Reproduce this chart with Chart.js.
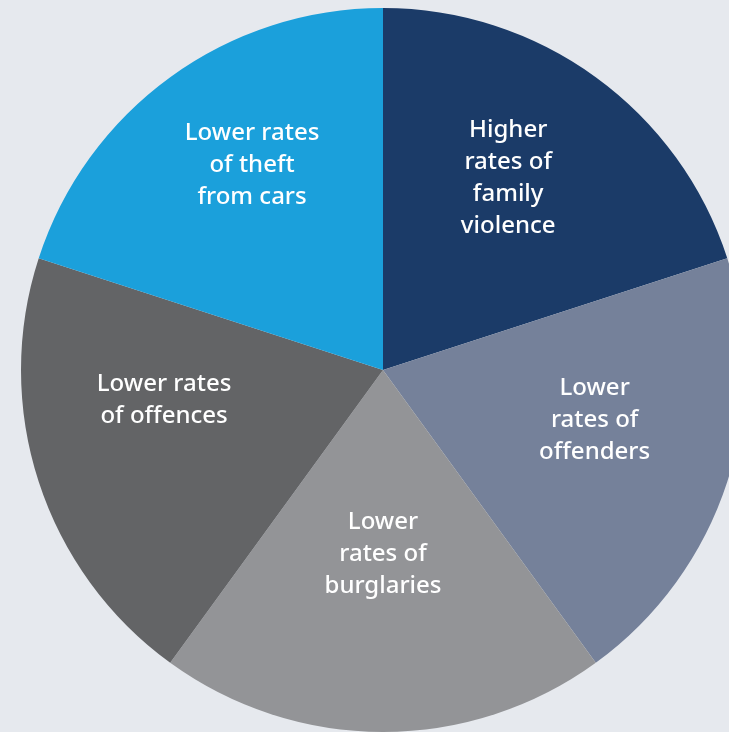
<!DOCTYPE html>
<html>
<head>
<meta charset="utf-8">
<script src="https://cdn.jsdelivr.net/npm/chart.js@4"></script>
<style>
  html, body { margin: 0; padding: 0; background: #e6e9ee; overflow: hidden; width: 729px; height: 732px; }
  #wrap { position: absolute; left: 21px; top: 8px; width: 724px; height: 724px; }
</style>
</head>
<body>
<div id="wrap"><canvas id="pie"></canvas></div>
<script>
// slices, clockwise from 12 o'clock
const labels = [
  ["Higher", "rates of", "family", "violence"],
  ["Lower", "rates of", "offenders"],
  ["Lower", "rates of", "burglaries"],
  ["Lower rates", "of offences"],
  ["Lower rates", "of theft", "from cars"]
];
const values = [1, 1, 1, 1, 1];
const colours = ["#1b3b68", "#75819a", "#939497", "#636466", "#1ba0db"];

// where each label sits: angle shift (deg) from slice middle, distance as share of radius
const labelPlace = [
  { shift: -3, dist: 0.635 },
  { shift: -5, dist: 0.60 },
  { shift: 0, dist: 0.505 },
  { shift: 10.5, dist: 0.61 },
  { shift: 3.6, dist: 0.675 }
];

const sliceLabels = {
  id: "sliceLabels",
  afterDatasetsDraw(chart) {
    const ctx = chart.ctx;
    const meta = chart.getDatasetMeta(0);
    ctx.save();
    ctx.fillStyle = "#ffffff";
    ctx.font = "500 24px 'Noto Sans'";
    ctx.textAlign = "center";
    ctx.textBaseline = "middle";
    meta.data.forEach((arc, i) => {
      const p = arc.getProps(["x", "y", "startAngle", "endAngle", "outerRadius"], true);
      const a = (p.startAngle + p.endAngle) / 2 + labelPlace[i].shift * Math.PI / 180;
      const r = p.outerRadius * labelPlace[i].dist;
      const cx = p.x + Math.cos(a) * r;
      const cy = p.y + Math.sin(a) * r + 1;
      const lines = labels[i];
      const lh = 32;
      lines.forEach((t, k) => {
        ctx.fillText(t, cx, cy + (k - (lines.length - 1) / 2) * lh);
      });
    });
    ctx.restore();
  }
};

new Chart(document.getElementById("pie"), {
  type: "pie",
  data: {
    labels: labels.map(l => l.join(" ")),
    datasets: [{
      data: values,
      backgroundColor: colours,
      borderWidth: 0,
      hoverOffset: 0
    }]
  },
  options: {
    responsive: true,
    maintainAspectRatio: false,
    animation: false,
    layout: { padding: 0 },
    plugins: {
      legend: { display: false },
      tooltip: { enabled: false }
    }
  },
  plugins: [sliceLabels]
});
</script>
</body>
</html>
